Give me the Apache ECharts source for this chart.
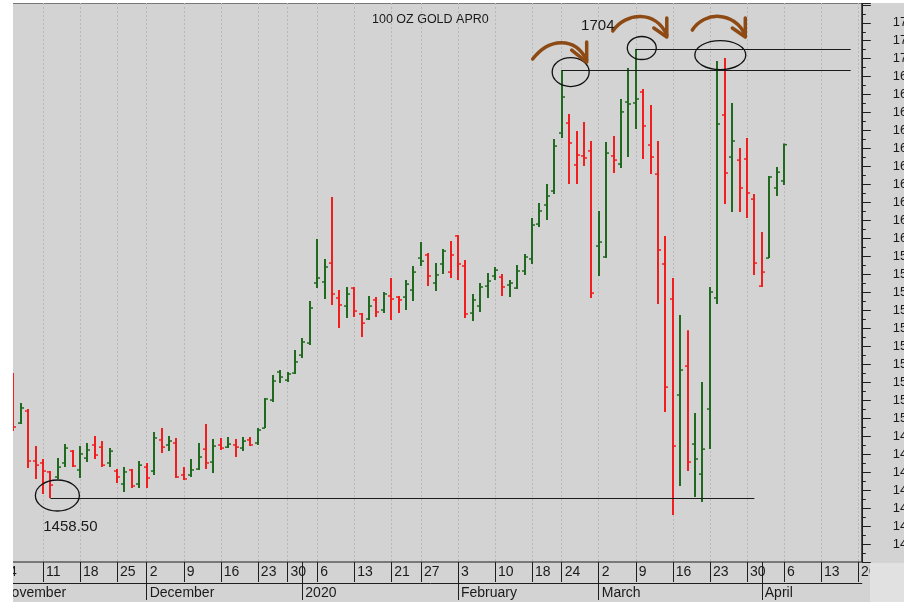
<!DOCTYPE html>
<html>
<head>
<meta charset="utf-8">
<script src="https://cdn.jsdelivr.net/npm/echarts@6/dist/echarts.min.js"></script>
<style>
  html, body { margin: 0; padding: 0; background: #fff; }
  #chart { width: 904px; height: 602px; }
</style>
</head>
<body>
<div id="chart"></div>
<script>
// trading days shown on the axis (future days after Apr 6 have no bars)
const dates = [
  '2019-11-01',
  '2019-11-04', '2019-11-05', '2019-11-06', '2019-11-07', '2019-11-08',
  '2019-11-11', '2019-11-12', '2019-11-13', '2019-11-14', '2019-11-15',
  '2019-11-18', '2019-11-19', '2019-11-20', '2019-11-21', '2019-11-22',
  '2019-11-25', '2019-11-26', '2019-11-27', '2019-11-29',
  '2019-12-02', '2019-12-03', '2019-12-04', '2019-12-05', '2019-12-06',
  '2019-12-09', '2019-12-10', '2019-12-11', '2019-12-12', '2019-12-13',
  '2019-12-16', '2019-12-17', '2019-12-18', '2019-12-19', '2019-12-20',
  '2019-12-23', '2019-12-24', '2019-12-26', '2019-12-27',
  '2019-12-30', '2019-12-31', '2020-01-02', '2020-01-03',
  '2020-01-06', '2020-01-07', '2020-01-08', '2020-01-09', '2020-01-10',
  '2020-01-13', '2020-01-14', '2020-01-15', '2020-01-16', '2020-01-17',
  '2020-01-21', '2020-01-22', '2020-01-23', '2020-01-24',
  '2020-01-27', '2020-01-28', '2020-01-29', '2020-01-30', '2020-01-31',
  '2020-02-03', '2020-02-04', '2020-02-05', '2020-02-06', '2020-02-07',
  '2020-02-10', '2020-02-11', '2020-02-12', '2020-02-13', '2020-02-14',
  '2020-02-18', '2020-02-19', '2020-02-20', '2020-02-21',
  '2020-02-24', '2020-02-25', '2020-02-26', '2020-02-27', '2020-02-28',
  '2020-03-02', '2020-03-03', '2020-03-04', '2020-03-05', '2020-03-06',
  '2020-03-09', '2020-03-10', '2020-03-11', '2020-03-12', '2020-03-13',
  '2020-03-16', '2020-03-17', '2020-03-18', '2020-03-19', '2020-03-20',
  '2020-03-23', '2020-03-24', '2020-03-25', '2020-03-26', '2020-03-27',
  '2020-03-30', '2020-03-31', '2020-04-01', '2020-04-02', '2020-04-03',
  '2020-04-06', '2020-04-07', '2020-04-08', '2020-04-09', '2020-04-10',
  '2020-04-13', '2020-04-14', '2020-04-15', '2020-04-16', '2020-04-17',
  '2020-04-20'
];

// OHLC, same order as dates (null = no bar)
const openPx = [
  null,
  null, 1521.2, 1497.3, 1504.0, 1476.2,
  1475.1, 1470.1, 1467.3, 1475.1, 1481.7,
  1471.2, 1477.8, 1485.1, 1483.9, 1475.1,
  1470.6, 1463.4, 1471.2, 1463.4,
  1472.8, 1470.6, 1487.9, 1485.1, 1486.2,
  1468.4, 1468.4, 1471.7, 1482.8, 1475.6,
  1485.1, 1483.9, 1485.1, 1483.4, 1487.9,
  1486.2, 1494.5, 1510.1, 1525.7,
  1521.2, 1525.1, 1535.1, 1541.8,
  1575.2, 1575.8, 1586.3, 1566.9, 1562.4,
  1572.4, 1558.0, 1555.2, 1565.8, 1560.2,
  1568.0, 1567.4, 1567.4, 1571.3,
  1589.1, 1590.8, 1575.2, 1585.8, 1581.3,
  1601.4, 1584.7, 1558.5, 1562.4, 1573.5,
  1579.1, 1578.5, 1574.1, 1572.4, 1581.9,
  1588.6, 1608.0, 1618.6, 1626.4,
  1658.7, 1664.2, 1640.9, 1645.9, 1648.7,
  1595.8, 1589.7, 1645.9, 1641.4, 1675.9,
  1675.4, 1681.5, 1652.0, 1635.8, 1585.8,
  1566.3, 1512.9, 1529.0, 1485.6, 1468.9,
  1505.1, 1566.9, 1668.7, 1645.3, 1643.6,
  1644.2, 1621.9, 1573.5, 1589.1, 1628.1,
  1632.0, null, null, null, null,
  null, null, null, null, null,
  null
];
const highPx = [
  null,
  null, 1525.1, 1508.4, 1505.1, 1484.5,
  1477.3, 1470.6, 1477.8, 1485.6, 1482.3,
  1484.5, 1486.2, 1490.1, 1487.3, 1483.4,
  1471.7, 1472.8, 1471.7, 1476.2,
  1475.1, 1492.3, 1494.5, 1490.1, 1489.0,
  1472.8, 1477.3, 1486.2, 1496.8, 1488.4,
  1489.0, 1489.5, 1488.4, 1489.5, 1489.5,
  1494.5, 1511.2, 1524.0, 1526.8,
  1525.7, 1537.9, 1544.6, 1565.2,
  1599.7, 1588.6, 1623.1, 1571.3, 1573.0,
  1573.0, 1558.5, 1568.0, 1567.4, 1570.2,
  1578.0, 1568.0, 1576.9, 1584.7,
  1598.0, 1591.9, 1586.3, 1594.1, 1598.6,
  1601.9, 1588.0, 1569.1, 1575.2, 1580.8,
  1584.1, 1580.2, 1576.9, 1585.2, 1591.3,
  1611.4, 1619.7, 1630.3, 1655.3,
  1693.7, 1669.2, 1659.8, 1664.8, 1654.2,
  1615.3, 1653.7, 1657.0, 1677.6, 1694.8,
  1705.4, 1683.2, 1674.2, 1654.2, 1601.4,
  1578.0, 1557.4, 1549.0, 1502.9, 1520.1,
  1573.0, 1698.7, 1700.4, 1675.4, 1650.3,
  1655.9, 1624.7, 1603.6, 1634.7, 1639.7,
  1652.8, null, null, null, null,
  null, null, null, null, null,
  null
];
const lowPx = [
  null,
  null, 1492.9, 1496.8, 1472.3, 1466.2,
  1457.8, 1455.6, 1466.2, 1472.8, 1472.8,
  1466.7, 1475.6, 1477.3, 1472.8, 1472.8,
  1463.9, 1458.9, 1461.2, 1461.2,
  1461.2, 1468.4, 1480.6, 1481.7, 1466.7,
  1465.6, 1467.3, 1471.2, 1471.7, 1469.5,
  1482.3, 1483.4, 1478.4, 1481.7, 1484.5,
  1485.1, 1494.5, 1509.0, 1519.6,
  1520.1, 1524.6, 1533.5, 1540.7,
  1572.4, 1566.3, 1563.0, 1550.2, 1555.7,
  1556.3, 1545.2, 1554.6, 1556.3, 1558.5,
  1554.6, 1558.5, 1560.2, 1565.2,
  1584.7, 1573.5, 1570.8, 1580.2, 1578.0,
  1576.9, 1555.7, 1554.1, 1559.1, 1566.9,
  1576.9, 1568.0, 1567.4, 1571.9, 1579.7,
  1585.8, 1606.4, 1610.3, 1624.7,
  1655.9, 1630.3, 1630.3, 1640.3, 1566.9,
  1579.1, 1589.1, 1636.4, 1639.2, 1645.3,
  1660.9, 1644.2, 1635.8, 1563.5, 1503.4,
  1446.1, 1462.3, 1470.6, 1456.1, 1453.4,
  1482.8, 1563.5, 1619.2, 1614.7, 1614.7,
  1611.4, 1579.7, 1573.0, 1589.1, 1623.6,
  1629.7, null, null, null, null,
  null, null, null, null, null,
  null
];
const closePx = [
  null,
  null, 1495.1, 1505.7, 1476.2, 1473.9,
  1470.6, 1462.8, 1472.8, 1483.4, 1473.4,
  1480.1, 1482.3, 1479.5, 1473.9, 1481.7,
  1467.3, 1470.1, 1462.3, 1473.9,
  1466.7, 1489.0, 1483.9, 1487.3, 1467.3,
  1466.2, 1471.2, 1478.4, 1475.1, 1484.5,
  1483.4, 1485.6, 1483.9, 1487.3, 1485.1,
  1493.4, 1510.7, 1520.7, 1522.9,
  1524.6, 1531.3, 1542.4, 1561.3,
  1578.0, 1584.1, 1569.1, 1563.0, 1569.1,
  1559.6, 1552.9, 1562.4, 1559.1, 1569.1,
  1566.3, 1565.8, 1574.6, 1581.3,
  1587.4, 1579.1, 1579.7, 1593.0, 1590.8,
  1585.8, 1558.0, 1565.8, 1573.0, 1576.3,
  1582.4, 1573.0, 1575.2, 1581.9, 1589.7,
  1607.5, 1615.3, 1623.6, 1651.4,
  1678.7, 1653.1, 1646.4, 1644.8, 1569.6,
  1598.0, 1647.5, 1643.6, 1670.4, 1674.8,
  1677.6, 1662.6, 1645.3, 1593.6, 1517.3,
  1484.5, 1526.8, 1475.6, 1477.3, 1482.8,
  1570.2, 1663.7, 1636.4, 1654.2, 1628.1,
  1625.3, 1586.3, 1581.3, 1634.2, 1636.9,
  1652.2, null, null, null, null,
  null, null, null, null, null,
  null
];

// hand drawn levels on the chart
const levelFrom = ['2020-03-09', '2020-02-24', '2019-11-12'];
const levelTo = ['2020-04-17', '2020-04-17', '2020-03-31'];
const levelValue = [1705.4, 1693.7, 1455.6];

const yTicks = { min: 1420, max: 1731, step: 10 };
const monthNames = ['January', 'February', 'March', 'April', 'May', 'June', 'July',
  'August', 'September', 'October', 'November', 'December'];

const upColor = '#1f6a1f';
const downColor = '#f21d1d';
const font = '"Liberation Sans", Arial, sans-serif';

const dayOf = (s) => new Date(s + 'T00:00:00Z');
const isWeekStart = (i) => {
  if (i === 0) return false;
  const a = dayOf(dates[i - 1]), b = dayOf(dates[i]);
  return b.getUTCDay() < a.getUTCDay() || (b - a) >= 7 * 864e5;
};
const isMonthStart = (i) => i === 0 || dates[i].slice(5, 7) !== dates[i - 1].slice(5, 7);

// bars: [index, open, high, low, close, up]
const barData = [];
let prevClose = null;
for (let i = 0; i < dates.length; i++) {
  if (openPx[i] == null) continue;
  const ref = prevClose == null ? openPx[i] : prevClose;
  barData.push([i, openPx[i], highPx[i], lowPx[i], closePx[i], closePx[i] >= ref ? 1 : 0]);
  prevClose = closePx[i];
}

function renderOhlc(params, api) {
  const i = api.value(0);
  const hi = api.coord([i, api.value(2)]);
  const lo = api.coord([i, api.value(3)]);
  const op = api.coord([i, api.value(1)]);
  const cl = api.coord([i, api.value(4)]);
  const color = api.value(5) ? upColor : downColor;
  const x = Math.round(hi[0]);
  const st = { stroke: color, lineWidth: 2 };
  return {
    type: 'group',
    children: [
      { type: 'line', shape: { x1: x, y1: hi[1], x2: x, y2: lo[1] }, style: st },
      { type: 'line', shape: { x1: x - 3, y1: op[1], x2: x, y2: op[1] }, style: { stroke: color, lineWidth: 1.5 } },
      { type: 'line', shape: { x1: x, y1: cl[1], x2: x + 3, y2: cl[1] }, style: { stroke: color, lineWidth: 1.5 } }
    ]
  };
}

const option = {
  animation: false,
  backgroundColor: '#d3d3d3',
  title: {
    text: '100 OZ GOLD APR0',
    left: 367,
    top: 8,
    textStyle: { fontFamily: font, fontSize: 12.5, fontWeight: 'normal', color: '#1a1a1a' }
  },
  grid: {
    left: -5.2, right: 42.2, top: 3, bottom: 40,
    containLabel: false,
    outerBoundsMode: 'none',
    show: true, backgroundColor: '#d3d3d3', borderColor: '#1e1e1e', borderWidth: 1
  },
  xAxis: [{
    type: 'category',
    data: dates,
    boundaryGap: true,
    axisLine: { show: false },
    axisTick: {
      show: true, alignWithLabel: true, length: 20,
      interval: (i) => isWeekStart(i),
      lineStyle: { color: '#1e1e1e', width: 1 }
    },
    axisLabel: {
      interval: (i) => isWeekStart(i),
      formatter: (v) => String(Number(v.slice(8))),
      align: 'left', padding: [0, 0, 0, 3], margin: 3,
      fontFamily: font, fontSize: 14, color: '#1a1a1a'
    },
    splitLine: {
      show: true, alignWithLabel: true,
      interval: (i) => isWeekStart(i),
      lineStyle: { color: '#b9b9b9', type: [2, 2], width: 1 }
    }
  }, {
    type: 'category',
    data: dates,
    boundaryGap: true,
    position: 'bottom',
    axisLine: { show: false },
    axisTick: {
      show: true, alignWithLabel: true, length: 38,
      interval: (i) => isMonthStart(i),
      lineStyle: { color: '#1e1e1e', width: 1 }
    },
    axisLabel: {
      interval: (i) => isMonthStart(i),
      formatter: (v) => {
        const m = Number(v.slice(5, 7)) - 1;
        return m === 0 ? v.slice(0, 4) : monthNames[m];
      },
      align: 'left', padding: [0, 0, 0, 3], margin: 24,
      fontFamily: font, fontSize: 14, color: '#1a1a1a'
    },
    splitLine: { show: false }
  }, {
    type: 'category',
    data: dates,
    position: 'bottom',
    offset: 21,
    axisLine: { show: true, lineStyle: { color: '#1e1e1e', width: 1 } },
    axisTick: { show: false },
    axisLabel: { show: false },
    splitLine: { show: false }
  }],
  yAxis: {
    type: 'value',
    position: 'right',
    min: yTicks.min,
    max: yTicks.max,
    interval: yTicks.step,
    axisLine: { show: true, lineStyle: { color: '#1e1e1e' } },
    axisTick: { show: true, length: 9, lineStyle: { color: '#1e1e1e' } },
    minorTick: { show: true, splitNumber: 2, length: 4, lineStyle: { color: '#1e1e1e' } },
    axisLabel: {
      margin: 31, fontFamily: font, fontSize: 13, color: '#1a1a1a',
      formatter: (v) => (v <= yTicks.min || v >= 1730 ? '' : v.toFixed(1))
    },
    splitLine: { show: false }
  },
  series: [{
    type: 'custom',
    xAxisIndex: 0,
    yAxisIndex: 0,
    renderItem: renderOhlc,
    encode: { x: 0, y: [1, 2, 3, 4] },
    data: barData,
    clip: true,
    markLine: {
      silent: true,
      symbol: ['none', 'none'],
      label: { show: false },
      lineStyle: { color: '#1a1a1a', width: 1.2, type: 'solid' },
      data: levelValue.map((v, k) => [
        { coord: [levelFrom[k], v] },
        { coord: [levelTo[k], v] }
      ])
    }
  }]
};

const chart = echarts.init(document.getElementById('chart'));
chart.setOption(option);

// annotations anchored on data points
const at = (d, v) => chart.convertToPixel({ seriesIndex: 0 }, [d, v]);
const idx = (d) => dates.indexOf(d);
const pFeb24 = at('2020-02-24', highPx[idx('2020-02-24')]);
const pMar9 = at('2020-03-09', highPx[idx('2020-03-09')]);
const pMar24 = at('2020-03-24', highPx[idx('2020-03-24')]);
const pNov12 = at('2019-11-12', lowPx[idx('2019-11-12')]);

const ring = (c, dx, dy, rx, ry) => ({
  type: 'ellipse', z: 50, silent: true,
  shape: { cx: c[0] + dx, cy: c[1] + dy, rx: rx, ry: ry },
  style: { fill: 'none', stroke: '#111', lineWidth: 1.3 }
});
const brown = '#8e4a14';
const arrow = (c, pts) => ([{
  type: 'bezierCurve', z: 50, silent: true,
  shape: {
    x1: c[0] + pts[0], y1: c[1] + pts[1],
    cpx1: c[0] + pts[2], cpy1: c[1] + pts[3],
    cpx2: c[0] + pts[4], cpy2: c[1] + pts[5],
    x2: c[0] + pts[6], y2: c[1] + pts[7]
  },
  style: { fill: 'none', stroke: brown, lineWidth: 3.5, lineCap: 'round' }
}, {
  type: 'polyline', z: 50, silent: true,
  shape: { points: [[c[0] + pts[8], c[1] + pts[9]], [c[0] + pts[6], c[1] + pts[7] + 2], [c[0] + pts[10], c[1] + pts[11]]] },
  style: { fill: 'none', stroke: brown, lineWidth: 3.5, lineCap: 'round', lineJoin: 'round' }
}]);

const e1 = [pFeb24[0] + 9, pFeb24[1] + 2];
const e2 = [pMar9[0] + 6, pMar9[1] - 1];
const e3 = [pMar24[0] + 3, pMar24[1] - 6];

chart.setOption({
  graphic: [
    ring(pFeb24, 9, 2, 18.5, 14.5),
    ring(pMar9, 6, -1, 14.5, 11.5),
    ring(pMar24, 3, -6, 25.5, 14.5),
    ring(pNov12, 7, -2.5, 22, 15.5),
    ...arrow(e1, [-38, -13, -22, -34, 4, -36, 16, -12, 1, -22, 16, -30]),
    ...arrow(e2, [-29, -17, -16, -36, 14, -38, 25, -13, 12, -20, 25, -30]),
    ...arrow(e3, [-28, -25, -16, -44, 14, -44, 25, -20, 12, -27, 25, -37]),
    {
      type: 'text', z: 50, silent: true,
      x: pMar9[0] - 38, y: pMar9[1] - 23,
      style: { text: '1704', font: '15px ' + font, fill: '#1a1a1a', align: 'center', verticalAlign: 'middle' }
    },
    {
      type: 'text', z: 50, silent: true,
      x: pNov12[0] + 20, y: pNov12[1] + 29,
      style: { text: '1458.50', font: '15px ' + font, fill: '#1a1a1a', align: 'center', verticalAlign: 'middle' }
    },
    // paper edges of the original screenshot
    { type: 'rect', z: 100, silent: true, shape: { x: 0, y: 0, width: 13, height: 602 }, style: { fill: '#fff' } },
    { type: 'rect', z: 100, silent: true, shape: { x: 0, y: 0, width: 904, height: 3 }, style: { fill: '#fff' } },
    { type: 'rect', z: 100, silent: true, shape: { x: 870, y: 563, width: 34, height: 39 }, style: { fill: '#e1e1e1' } }
  ]
});
</script>
</body>
</html>
